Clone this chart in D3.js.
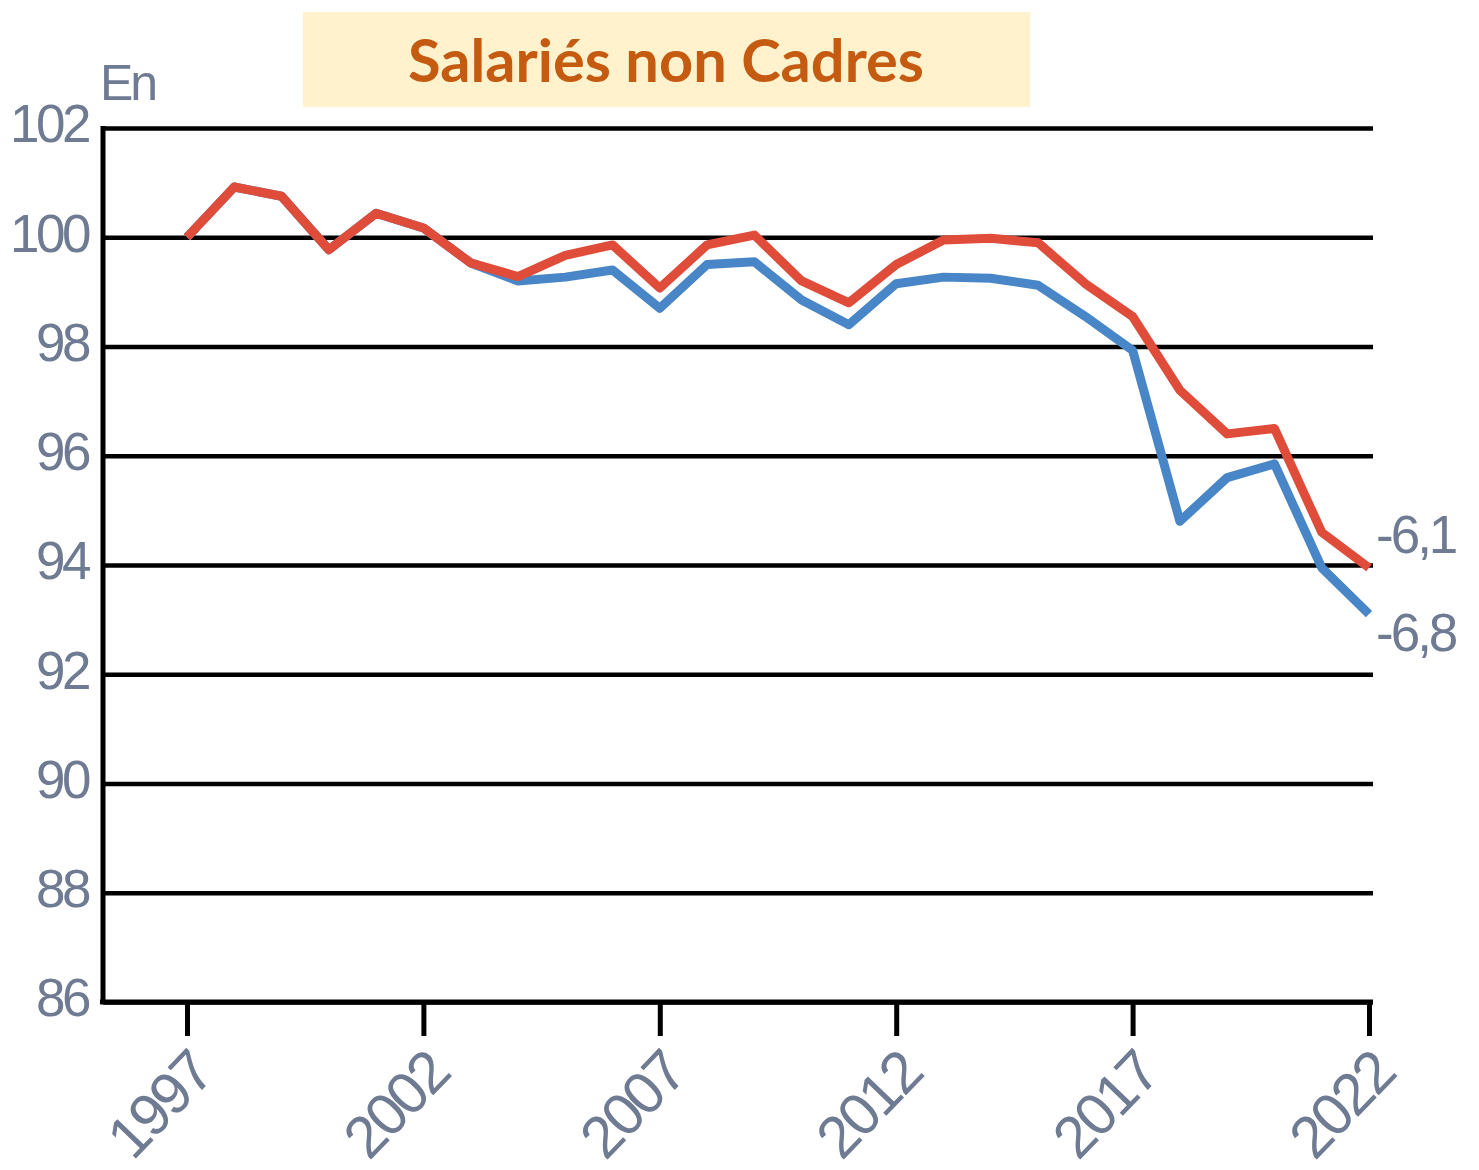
<!DOCTYPE html>
<html><head><meta charset="utf-8">
<script src="https://cdn.jsdelivr.net/npm/d3@7"></script>
<style>body{margin:0;background:#fff}svg{display:block}</style>
</head><body>
<script>
const years = d3.range(1997, 2023);
const redValues = [100.0,100.92,100.75,99.77,100.44,100.17,99.53,99.28,99.67,99.86,99.07,99.86,100.04,99.2,98.8,99.5,99.95,99.98,99.9,99.15,98.55,97.2,96.4,96.5,94.6,93.95];
const blueValues = [100.0,100.92,100.75,99.77,100.44,100.17,99.53,99.2,99.27,99.4,98.7,99.5,99.55,98.85,98.4,99.15,99.27,99.25,99.12,98.55,97.93,94.8,95.6,95.85,93.95,93.1];
const yTicks = [86,88,90,92,94,96,98,100,102];
const xTicks = [1997,2002,2007,2012,2017,2022];
const endLabels = ["-6,1","-6,8"];
const title = "Salariés non Cadres";
const unitLabel = "En";

const W = 1479, H = 1170;
const svg = d3.select("body").append("svg").attr("width", W).attr("height", H);

const x = d3.scaleLinear().domain([1997, 2022]).range([187, 1369]);
const y = d3.scaleLinear().domain([86, 102]).range([1002, 128]);
const labelColor = "#6f7b92";
const labelFont = "'Liberation Sans', Arial, sans-serif";

// title box
svg.append("rect").attr("x", 303).attr("y", 12).attr("width", 727).attr("height", 95).attr("fill", "#FFF2CC");
svg.append("text").attr("x", 666).attr("y", 82).attr("text-anchor", "middle")
  .attr("font-family", "Lato, 'Open Sans', sans-serif").attr("font-weight", "bold")
  .attr("font-size", 59).attr("fill", "#C55A11")
  .attr("textLength", 516).attr("lengthAdjust", "spacingAndGlyphs").text(title);

// y axis with gridlines
const yAxis = svg.append("g").attr("transform", "translate(103,0)")
  .call(d3.axisLeft(y).tickValues(yTicks).tickSize(-1270).tickPadding(15).tickFormat(d3.format("d")));
yAxis.select(".domain").remove();
yAxis.selectAll(".tick line").attr("stroke", "#000").attr("stroke-width", 4.5);
yAxis.selectAll(".tick text").attr("font-family", labelFont).attr("font-size", 53)
  .attr("letter-spacing", -3.5).attr("fill", labelColor).attr("dy", "0.26em");

// left axis line
svg.append("line").attr("x1", 103).attr("x2", 103).attr("y1", 126).attr("y2", 1004)
  .attr("stroke", "#000").attr("stroke-width", 5);

// unit label
svg.append("text").attr("x", 100).attr("y", 100).attr("font-family", labelFont)
  .attr("font-size", 50).attr("letter-spacing", -3).attr("fill", labelColor).text(unitLabel);

// x axis
const xAxis = svg.append("g").attr("transform", "translate(0,1002)")
  .call(d3.axisBottom(x).tickValues(xTicks).tickSize(34).tickFormat(d3.format("d")));
xAxis.select(".domain").remove();
xAxis.selectAll(".tick line").attr("stroke", "#000").attr("stroke-width", 5);
xAxis.selectAll(".tick text").attr("font-family", labelFont).attr("font-size", 59)
  .attr("letter-spacing", -3).attr("fill", labelColor)
  .attr("text-anchor", "end").attr("dy", null).attr("y", 0)
  .attr("transform", "translate(28,74) rotate(-46)");
svg.append("line").attr("x1", 100).attr("x2", 1373).attr("y1", y(86)).attr("y2", y(86))
  .attr("stroke", "#000").attr("stroke-width", 5);

// lines
const line = d3.line().x((d, i) => x(years[i])).y(d => y(d));
svg.append("path").datum(blueValues).attr("d", line).attr("fill", "none")
  .attr("stroke", "#4886C8").attr("stroke-width", 9).attr("stroke-linejoin", "round");
svg.append("path").datum(redValues).attr("d", line).attr("fill", "none")
  .attr("stroke", "#E04C3A").attr("stroke-width", 9).attr("stroke-linejoin", "round");

// end labels
svg.append("text").attr("x", 1376).attr("y", y(redValues[25]) - 15).attr("font-family", labelFont)
  .attr("font-size", 53).attr("letter-spacing", -3).attr("fill", labelColor).text(endLabels[0]);
svg.append("text").attr("x", 1376).attr("y", y(blueValues[25]) + 37).attr("font-family", labelFont)
  .attr("font-size", 53).attr("letter-spacing", -3).attr("fill", labelColor).text(endLabels[1]);
</script>
</body></html>
